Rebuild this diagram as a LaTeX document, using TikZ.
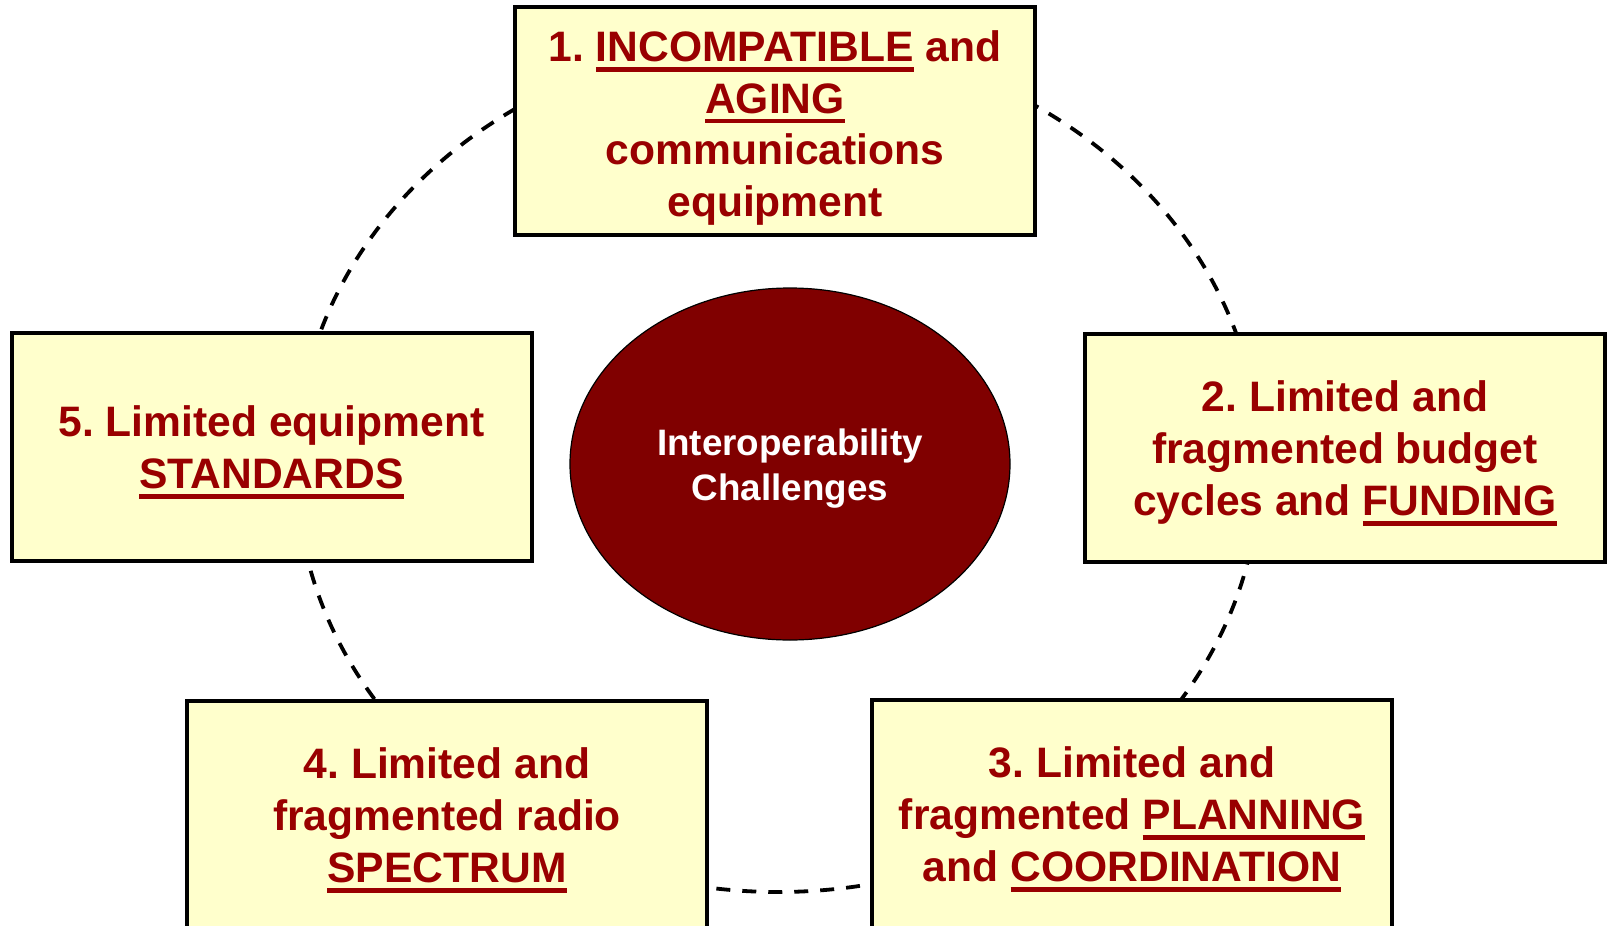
\documentclass[tikz,border=0pt]{standalone}
\usepackage{fontspec}
\setmainfont{Liberation Sans}
\usetikzlibrary{shapes.geometric}
\definecolor{boxfill}{HTML}{FFFFCC}
\definecolor{labelred}{HTML}{990000}
\definecolor{hubred}{HTML}{800000}
% underlined keyword with a heavy bar in the label colour
\newcommand\ulbar[1]{\setbox0=\hbox{#1}\rlap{\color{labelred}\rule[-0.24em]{\wd0}{0.11em}}\box0\relax}

\begin{document}
\frenchspacing
\begin{tikzpicture}[x=0.5pt,y=-0.5pt,
  challenge/.style={draw=black, line width=2pt, fill=boxfill,
    minimum width=260pt, minimum height=114pt, inner sep=0pt},
  challengetext/.style={inner sep=0pt, align=center, text=labelred,
    font=\fontsize{21.3}{25.9}\selectfont\bfseries},
  hub/.style={ellipse, draw=black, line width=0.6pt, fill=hubred,
    minimum width=220pt, minimum height=176pt, inner sep=0pt},
  hubtext/.style={inner sep=0pt, align=center, text=white,
    font=\fontsize{18.4}{22.5}\selectfont\bfseries},
  ring/.style={ellipse, draw=black, line width=1.9pt,
    dash pattern=on 7pt off 6pt, minimum width=482pt,
    minimum height=426pt, inner sep=0pt}
]
\useasboundingbox (0,0) rectangle (1607,926);
\clip (0,0) rectangle (1607,926);

% dashed cycle behind the five boxes
\node[ring] (cycle) at (778,466) {};

% central hub
\node[hub] (hub) at (790,464) {};
\node[hubtext] (hublabel) at ([yshift=-2.5pt]hub.center)
  {Interoperability\\Challenges};

% the five challenge boxes
\node[challenge] (c1) at (775,121) {};
\node[challenge] (c2) at (1345,448) {};
\node[challenge] (c3) at (1132,814) {};
\node[challenge] (c4) at (447,815) {};
\node[challenge] (c5) at (271.5,447) {};

% their labels
\node[challengetext] (t1) at ([yshift=-3.5pt]c1.center)
  {1. \ulbar{INCOMPATIBLE} and\\\ulbar{AGING}\\communications\\equipment};
\node[challengetext] (t2) at ([yshift=-2.6pt]c2.center)
  {2. Limited and\\fragmented budget\\cycles and \ulbar{FUNDING}};
\node[challengetext] (t3) at ([yshift=-2.6pt]c3.center)
  {3. Limited and\\fragmented \ulbar{PLANNING}\\and \ulbar{COORDINATION}};
\node[challengetext] (t4) at ([yshift=-2.6pt]c4.center)
  {4. Limited and\\fragmented radio\\\ulbar{SPECTRUM}};
\node[challengetext] (t5) at ([yshift=-2.6pt]c5.center)
  {5. Limited equipment\\\ulbar{STANDARDS}};
\end{tikzpicture}
\end{document}
